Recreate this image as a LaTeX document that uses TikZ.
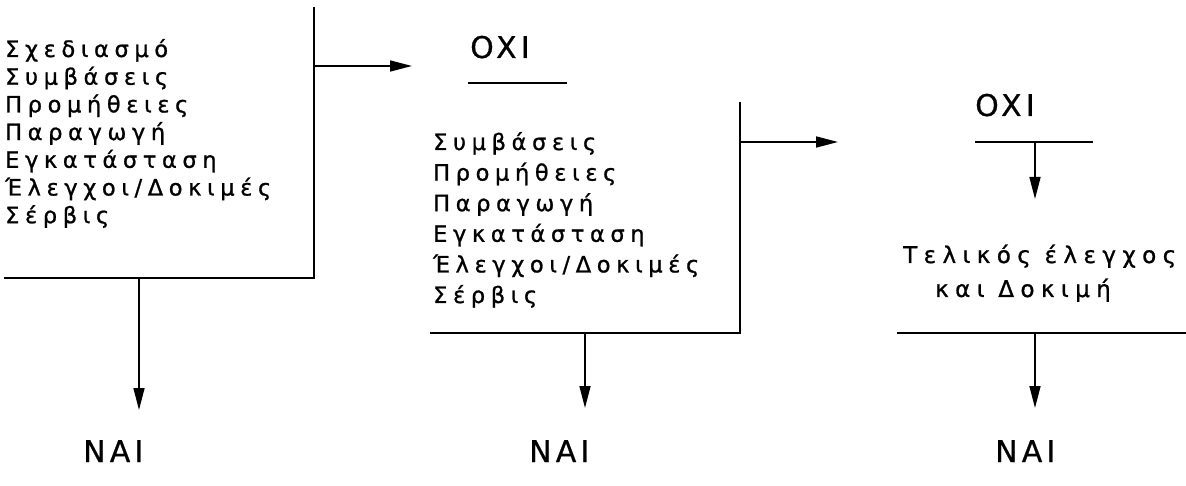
\documentclass[tikz,border=0pt]{standalone}
\usepackage{fontspec}
\setmainfont{DejaVu Sans}
\newfontfamily\spacedlist[LetterSpace=25,FakeBold=1]{DejaVu Sans}
\newfontfamily\spacedfin[LetterSpace=28,FakeBold=1]{DejaVu Sans}
\newfontfamily\spacedbig[LetterSpace=14,FakeBold=0.6]{DejaVu Sans}
\usetikzlibrary{arrows.meta}
\begin{document}
\begin{tikzpicture}[x=1pt,y=-1pt,
  line/.style={line width=2pt},
  arr/.style={line width=1.6pt,-{Triangle[length=22pt,width=11pt]}},
  item/.style={font=\spacedlist\fontsize{22.5}{26}\selectfont,anchor=base west,inner sep=0},
  fin/.style={font=\spacedfin\fontsize{23}{27}\selectfont,anchor=base west,inner sep=0},
  big/.style={font=\spacedbig\fontsize{30}{36}\selectfont,anchor=base west,inner sep=0},
  ]
\useasboundingbox (0,0) rectangle (1186,486);

% ---- Box 1
\foreach \t [count=\i] in {Σχεδιασμό,Συμβάσεις,Προμήθειες,Παραγωγή,Εγκατάσταση,Έλεγχοι/Δοκιμές,Σέρβις}
  \node[item] (a\i) at (5,{57+27.7*(\i-1)}) {\t};
\coordinate (b1top) at (314,7);
\coordinate (b1corner) at (314,278);
\coordinate (b1left) at (4,278);
\draw[line] (b1top) -- (b1corner) -- (b1left);
\coordinate (b1out) at (314,66);
\coordinate (o1tip) at (412,66);
\draw[arr] (b1out) -- (o1tip);
\coordinate (b1down) at (139,278);
\coordinate (n1tip) at (139,410);
\draw[arr] (b1down) -- (n1tip);
\node[big] (nai1) at (83,462) {NAI};

% ---- OXI 1 and Box 2
\node[big] (oxi1) at (470,58) {OXI};
\coordinate (u1l) at (468,83);
\coordinate (u1r) at (567,83);
\draw[line] (u1l) -- (u1r);
\foreach \t [count=\i] in {Συμβάσεις,Προμήθειες,Παραγωγή,Εγκατάσταση,Έλεγχοι/Δοκιμές,Σέρβις}
  \node[item] (c\i) at (433,{150+30.6*(\i-1)}) {\t};
\coordinate (b2top) at (740,102);
\coordinate (b2corner) at (740,333);
\coordinate (b2left) at (430,333);
\draw[line] (b2top) -- (b2corner) -- (b2left);
\coordinate (b2out) at (740,142);
\coordinate (o2tip) at (838,142);
\draw[arr] (b2out) -- (o2tip);
\coordinate (b2down) at (585,333);
\coordinate (n2tip) at (585,408);
\draw[arr] (b2down) -- (n2tip);
\node[big] (nai2) at (529,462) {NAI};

% ---- OXI 2 and final stage
\node[big] (oxi2) at (975,116) {OXI};
\coordinate (u2l) at (975,142);
\coordinate (u2r) at (1093,142);
\draw[line] (u2l) -- (u2r);
\coordinate (u2mid) at (1035,142);
\coordinate (t1tip) at (1035,199);
\draw[arr] (u2mid) -- (t1tip);
\node[fin] (tel1) at (903,263) {Τελικός έλεγχος};
\node[fin] (tel2) at (935,297) {και Δοκιμή};
\coordinate (b3left) at (897,333);
\coordinate (b3right) at (1186,333);
\draw[line] (b3left) -- (b3right);
\coordinate (b3down) at (1035,333);
\coordinate (n3tip) at (1035,408);
\draw[arr] (b3down) -- (n3tip);
\node[big] (nai3) at (995,462) {NAI};
\end{tikzpicture}
\end{document}
